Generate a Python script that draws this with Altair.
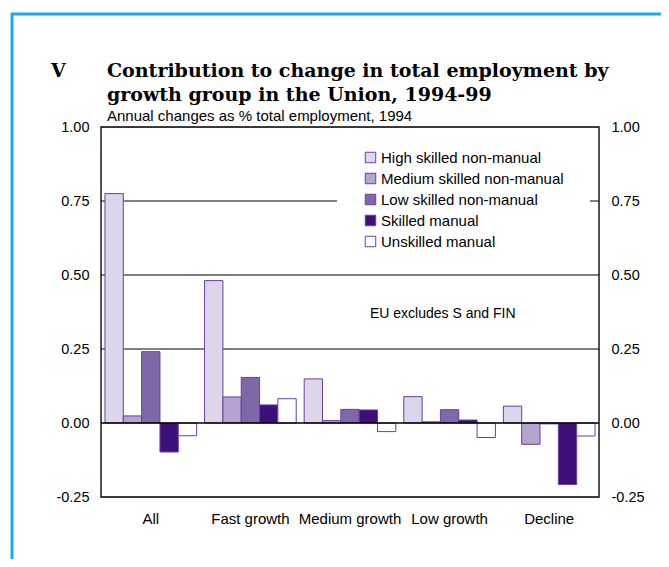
import altair as alt
import pandas as pd

groups = ["All", "Fast growth", "Medium growth", "Low growth", "Decline"]
series = ["High skilled non-manual", "Medium skilled non-manual",
          "Low skilled non-manual", "Skilled manual", "Unskilled manual"]
high = [0.775, 0.481, 0.149, 0.089, 0.057]
medium = [0.024, 0.088, 0.008, 0.004, -0.072]
low = [0.241, 0.154, 0.046, 0.045, -0.003]
skilled = [-0.098, 0.061, 0.044, 0.010, -0.208]
unskilled = [-0.043, 0.082, -0.029, -0.049, -0.044]
colors = ["#ddd5e9", "#b4a5cf", "#7f68a8", "#3d0f78", "#ffffff"]
grid_full = [0.25, 0.5]
grid_part = [0.75]
ticks = [-0.25, 0.0, 0.25, 0.5, 0.75, 1.0]

rows = []
for s, vals in zip(series, [high, medium, low, skilled, unskilled]):
    for g, v in zip(groups, vals):
        rows.append({"group": g, "series": s, "value": v})
df = pd.DataFrame(rows)

W, H = 498, 370
FONT = "Liberation Sans"
SERIF = "DejaVu Serif"
yscale = alt.Scale(domain=[-0.25, 1.0], nice=False, zero=False)
LBL = "replace(format(datum.value, '.2f'), '\u2212', '-')"

left_axis = alt.Axis(orient="left", values=ticks, labelExpr=LBL, title=None,
                     domain=False, ticks=False, grid=False, labelFont=FONT,
                     labelFontSize=14.5, labelColor="#000", labelPadding=12)
right_axis = alt.Axis(orient="right", values=ticks, labelExpr=LBL, title=None,
                      domain=False, ticks=False, grid=False, labelFont=FONT,
                      labelFontSize=14.5, labelColor="#000", labelPadding=12)

bars = alt.Chart(df).mark_bar(stroke="#6a3fa0", strokeWidth=1).encode(
    x=alt.X("group:N", sort=groups, title=None,
            scale=alt.Scale(paddingInner=0.08, paddingOuter=0.04),
            axis=alt.Axis(labelAngle=0, ticks=False, domain=False,
                          labelFont=FONT, labelFontSize=15, labelColor="#000",
                          labelPadding=14)),
    xOffset=alt.XOffset("series:N", sort=series),
    y=alt.Y("value:Q", scale=yscale, axis=left_axis),
    fill=alt.Fill("series:N", sort=series,
                  scale=alt.Scale(domain=series, range=colors),
                  legend=alt.Legend(title=None, orient="none", legendX=262,
                                    legendY=23, symbolType="square",
                                    symbolSize=110, symbolStrokeColor="#6a3fa0",
                                    symbolStrokeWidth=1, labelFont=FONT,
                                    labelFontSize=15, labelColor="#000",
                                    labelLimit=400, rowPadding=5,
                                    labelOffset=3)),
)

grid1 = alt.Chart(pd.DataFrame({"v": grid_full})).mark_rule(
    color="#000", strokeWidth=1).encode(
    y=alt.Y("v:Q", scale=yscale, axis=right_axis))

grid2 = alt.Chart(pd.DataFrame({"v": grid_part})).mark_rule(
    color="#000", strokeWidth=1).encode(
    y=alt.Y("v:Q", scale=yscale, axis=None),
    x=alt.value(0), x2=alt.value(236))

rtick = alt.Chart(pd.DataFrame({"v": grid_part})).mark_rule(
    color="#000", strokeWidth=1).encode(
    y=alt.Y("v:Q", scale=yscale, axis=None),
    x=alt.value(489), x2=alt.value(498))

zero = alt.Chart(pd.DataFrame({"v": [0.0]})).mark_rule(
    color="#000", strokeWidth=1.5).encode(
    y=alt.Y("v:Q", scale=yscale, axis=None))

frame = alt.Chart(pd.DataFrame({"a": [0]})).mark_rect(
    filled=False, stroke="#000", strokeWidth=1.3).encode(
    x=alt.value(0), x2=alt.value(W), y=alt.value(0), y2=alt.value(H))

def label(txt, x, y, size=13, font=FONT, weight="normal"):
    return alt.Chart(pd.DataFrame({"t": [txt]})).mark_text(
        align="left", baseline="alphabetic", font=font, fontSize=size,
        fontWeight=weight, color="#000").encode(
        text="t:N", x=alt.value(x), y=alt.value(y))

texts = [
    label("V", -50, -50, 19, SERIF, "bold"),
    label("Contribution to change in total employment by", 6, -50, 19, SERIF, "bold"),
    label("growth group in the Union, 1994-99", 6, -26, 19, SERIF, "bold"),
    label("Annual changes as % total employment, 1994", 6, -6, 15),
    label("EU excludes S and FIN", 269, 191, 14),
]

border_left = alt.Chart(pd.DataFrame({"a": [0]})).mark_rule(
    color="#1aaee6", strokeWidth=3).encode(
    x=alt.value(-89), y=alt.value(-114), y2=alt.value(460))
border_top = alt.Chart(pd.DataFrame({"a": [0]})).mark_rule(
    color="#1aaee6", strokeWidth=3).encode(
    x=alt.value(-90), x2=alt.value(580), y=alt.value(-113))

chart = alt.layer(
    border_left, border_top, grid1, grid2, rtick, bars, zero, frame, *texts
).resolve_scale(y="shared").resolve_axis(y="independent").properties(
    width=W, height=H,
    autosize=alt.AutoSizeParams(type="none"),
    padding={"left": 93, "top": 119, "right": 62, "bottom": 62},
).configure_view(strokeWidth=0).configure(background="#fff")

chart.save("out.html", embed_options={"renderer": "svg", "actions": False})
